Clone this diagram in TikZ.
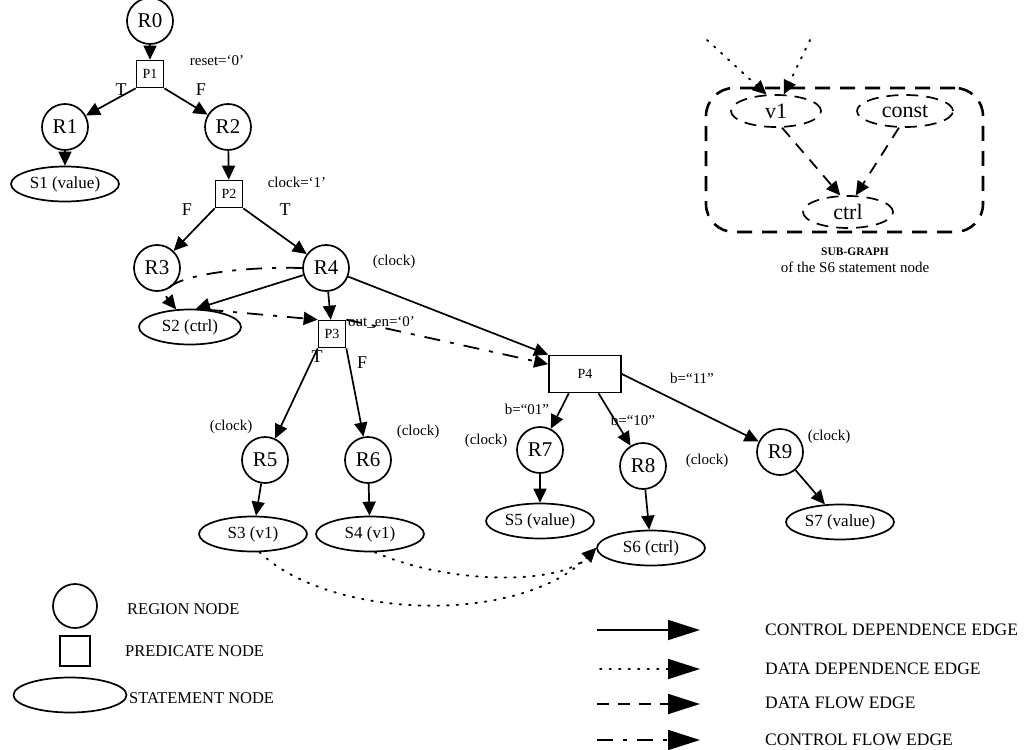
\documentclass[tikz,border=0pt]{standalone}
\usepackage{fontspec}
\setmainfont{Liberation Serif}
\usetikzlibrary{arrows.meta,shapes.geometric,calc}

\begin{document}
\begin{tikzpicture}[x=1pt,y=-1pt,
  region/.style={circle, draw, line width=1.7pt, minimum size=46pt, inner sep=0pt,
    font=\fontsize{21}{21}\selectfont},
  pred/.style={rectangle, draw, line width=1.7pt, minimum width=27pt, minimum height=27pt,
    inner sep=0pt, font=\fontsize{14}{14}\selectfont},
  stmt/.style={ellipse, draw, line width=1.7pt, minimum width=108pt, minimum height=35pt,
    inner sep=0pt, font=\fontsize{17}{17}\selectfont},
  sub/.style={ellipse, draw, line width=1.7pt, dash pattern=on 12pt off 8pt,
    minimum width=90pt, minimum height=32pt, inner sep=0pt, font=\fontsize{22}{22}\selectfont},
  lbl/.style={inner sep=0pt, font=\fontsize{15}{15}\selectfont},
  tf/.style={inner sep=0pt, font=\fontsize{18}{18}\selectfont},
  legtxt/.style={anchor=west, inner sep=0pt, font=\fontsize{16.5}{16.5}\selectfont},
  edgetxt/.style={anchor=west, inner sep=0pt, font=\fontsize{17.5}{17.5}\selectfont},
  tip/.style={-{Triangle[length=14pt,width=13pt]}},
  bigtip/.style={-{Triangle[length=32pt,width=20pt]}},
  cdep/.style={line width=1.7pt},
  ddep/.style={line width=1.9pt, line cap=round, dash pattern=on 1.5pt off 8pt},
  dflow/.style={line width=1.8pt, dash pattern=on 12pt off 9pt},
  cflow/.style={line width=1.8pt, dash pattern=on 16pt off 10pt on 4pt off 10pt},
]
\useasboundingbox (0,0) rectangle (1032,749);

% ---- region, predicate and statement nodes ----
\node[region] (R0) at (150,21) {R0};
\node[pred]   (P1) at (150,74) {P1};
\node[region] (R1) at (65,127) {R1};
\node[region] (R2) at (228,127) {R2};
\node[stmt]   (S1) at (65,184) {S1 (value)};
\node[pred]   (P2) at (229,194) {P2};
\node[region] (R3) at (157,268) {R3};
\node[region] (R4) at (326,268) {R4};
\node[stmt, minimum width=102pt] (S2) at (190,327) {S2 (ctrl)};
\node[pred]   (P3) at (332,334) {P3};
\node[pred, minimum width=72pt, minimum height=37pt] (P4) at (585,374) {P4};
\node[region] (R5) at (265,460) {R5};
\node[region] (R6) at (368,460) {R6};
\node[region] (R7) at (540,450) {R7};
\node[region] (R8) at (643,466) {R8};
\node[region] (R9) at (780,452) {R9};
\node[stmt]   (S3) at (253,534) {S3 (v1)};
\node[stmt]   (S4) at (370,534) {S4 (v1)};
\node[stmt]   (S5) at (540,521) {S5 (value)};
\node[stmt]   (S6) at (651,548) {S6 (ctrl)};
\node[stmt]   (S7) at (840,522) {S7 (value)};

% ---- condition and signal labels ----
\node[lbl] (lreset) at (217,61) {reset=`0'};
\node[lbl] (lclk1)  at (297,182) {clock=`1'};
\node[lbl] (lc4)    at (394,262) {(clock)};
\node[lbl, anchor=west] (lout) at (348,322) {out\_en=`0'};
\node[lbl] (lb11)   at (692,378) {b=``11''};
\node[lbl] (lb01)   at (527,409) {b=``01''};
\node[lbl] (lb10)   at (633,420) {b=``10''};
\node[lbl] (lc5)    at (231,427) {(clock)};
\node[lbl] (lc6)    at (418,432) {(clock)};
\node[lbl] (lc7)    at (486,441) {(clock)};
\node[lbl] (lc8)    at (707,461) {(clock)};
\node[lbl] (lc9)    at (829,437) {(clock)};
\node[tf] (t1) at (121,90) {T};
\node[tf] (f1) at (201,90) {F};
\node[tf] (f2) at (187,210) {F};
\node[tf] (t2) at (285,210) {T};
\node[tf] (t3) at (317,357) {T};
\node[tf] (f3) at (362,363) {F};

% ---- control dependence edges ----
\begin{scope}[cdep, tip]
\draw (R0) -- (P1);
\draw (P1.south west) -- (R1);
\draw (P1.south east) -- (R2);
\draw (R1) -- (S1);
\draw (R2) -- (P2);
\draw (P2.south west) -- (R3);
\draw (P2.south east) -- (R4);
\draw (R4) -- (S2.72);
\draw (R4) -- (P3);
\draw (R4) -- (P4.north west);
\draw (P3.south west) -- (R5);
\draw (P3.south east) -- (R6);
\draw (P4.230) -- (R7);
\draw (P4.305) -- (R8);
\draw (P4.east) -- (R9);
\draw (R5) -- (S3);
\draw (R6) -- (S4);
\draw (R7) -- (S5);
\draw (R8) -- (S6);
\draw (R9) -- (S7);
\end{scope}

% ---- control flow edges ----
\begin{scope}[cflow, tip]
\draw (R4.west) .. controls (225,266) and (152,280) .. (S2.128);
\draw (S2.45) -- (P3.north west);
\draw (P3.north east) -- (P4.165);
\end{scope}

% ---- data dependence edges ----
\begin{scope}[ddep, tip]
\draw (S3.290) .. controls (330,620) and (520,625) .. (S6.west);
\draw (S4.285) .. controls (450,585) and (560,585) .. (S6.west);
\end{scope}

% ---- sub-graph of the S6 statement node ----
\node[draw, line width=2.6pt, dash pattern=on 15pt off 10pt, rounded corners=28pt,
  minimum width=277pt, minimum height=144pt, inner sep=0pt] (box) at (844.5,160) {};
\node[sub] (v1) at (776,111) {v1};
\node[sub, minimum width=96pt] (const) at (905,111) {const};
\node[sub] (ctrl) at (848,212) {ctrl};
\coordinate (in1) at (707,40);
\coordinate (in2) at (810,40);
\draw[ddep, tip] (in1) -- (v1.120);
\draw[ddep, tip] (in2) -- (v1.65);
\draw[dflow, tip] (v1.290) -- (ctrl.115);
\draw[dflow, tip] (const.250) -- (ctrl.65);
\node[inner sep=0pt, font=\bfseries\fontsize{11.5}{11.5}\selectfont] (sgt) at (855,252) {SUB-GRAPH};
\node[inner sep=0pt, font=\fontsize{15}{15}\selectfont] (sgs) at (855,267) {of the S6 statement node};

% ---- node legend ----
\node[circle, draw, line width=1.7pt, minimum size=44pt, inner sep=0pt] (kr) at (75,606) {};
\node[rectangle, draw, line width=1.7pt, minimum size=30pt, inner sep=0pt] (kp) at (75,651) {};
\node[ellipse, draw, line width=1.7pt, minimum width=113pt, minimum height=35pt, inner sep=0pt] (ks) at (70,695) {};
\node[legtxt] (tr) at (127,609) {REGION NODE};
\node[legtxt] (tp) at (125,651) {PREDICATE NODE};
\node[legtxt] (ts) at (129,698) {STATEMENT NODE};

% ---- edge legend ----
\coordinate (a1) at (597,630);  \coordinate (b1) at (700,630);
\coordinate (a2) at (600,669);  \coordinate (b2) at (700,669);
\coordinate (a3) at (597,704);  \coordinate (b3) at (700,704);
\coordinate (a4) at (597,740);  \coordinate (b4) at (700,740);
\draw[cdep, bigtip] (a1) -- (b1);
\draw[ddep, bigtip] (a2) -- (b2);
\draw[dflow, bigtip] (a3) -- (b3);
\draw[cflow, bigtip] (a4) -- (b4);
\node[edgetxt] (e1) at (765,630) {CONTROL DEPENDENCE EDGE};
\node[edgetxt] (e2) at (765,669) {DATA DEPENDENCE EDGE};
\node[edgetxt] (e3) at (765,703) {DATA FLOW EDGE};
\node[edgetxt] (e4) at (765,740) {CONTROL FLOW EDGE};
\end{tikzpicture}
\end{document}
